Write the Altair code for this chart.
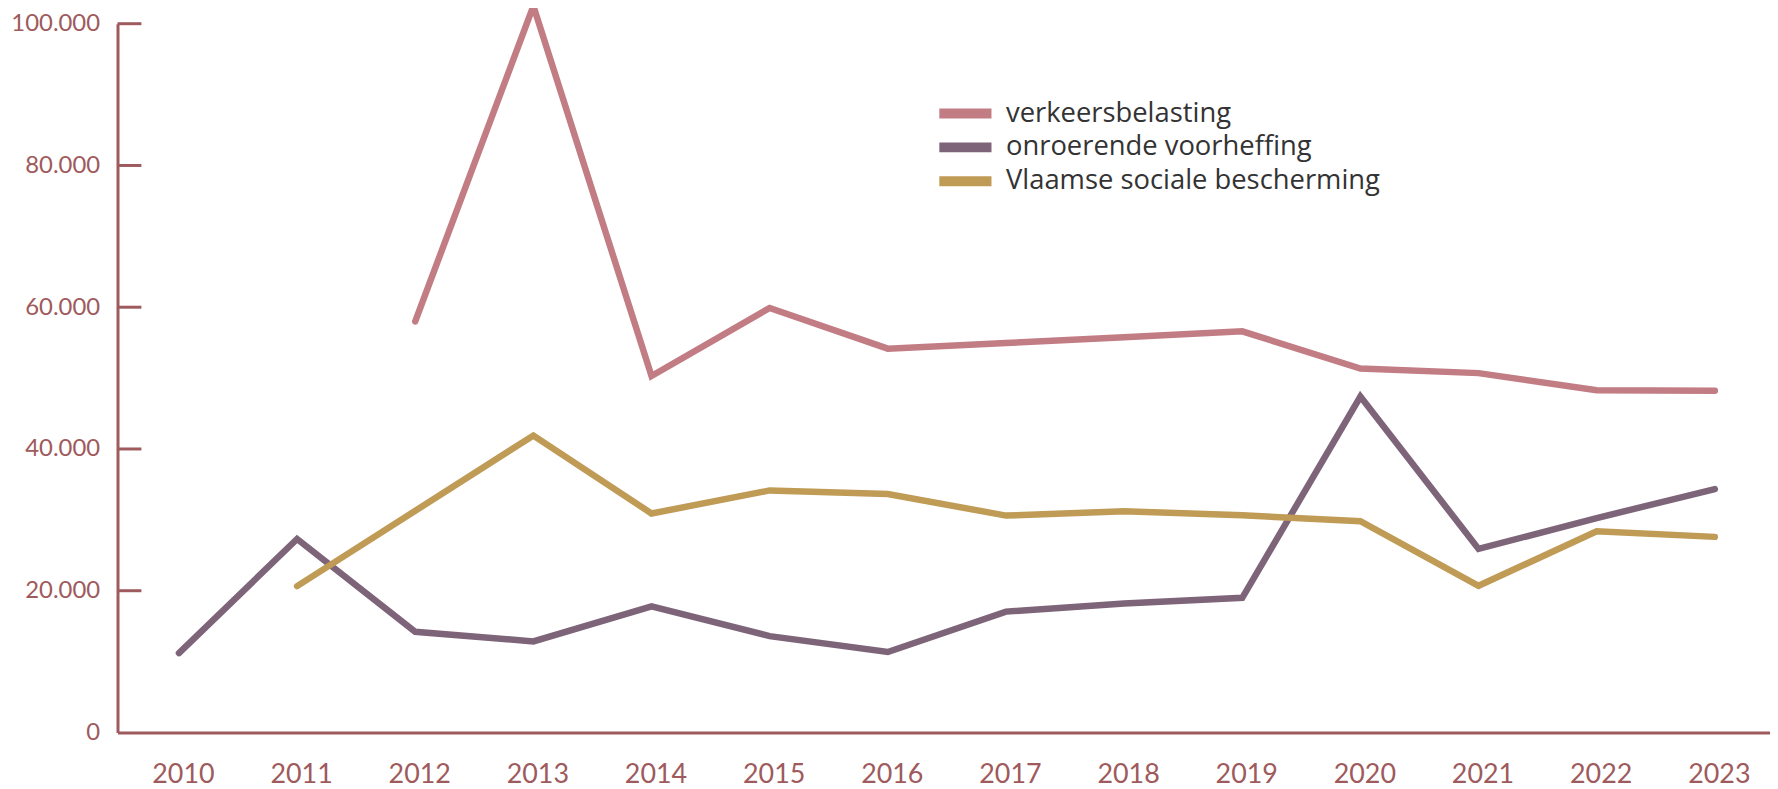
import altair as alt
import pandas as pd

years = list(range(2010, 2024))
verkeersbelasting = [None, None, 58000, 102500, 50300, 59900, 54150, 54950, 55750, 56600, 51350, 50700, 48300, 48200]
onroerende_voorheffing = [11200, 27300, 14200, 12850, 17800, 13600, 11350, 17050, 18200, 19000, 47400, 25900, 30250, 34350]
vlaamse_sociale_bescherming = [None, 20650, None, 41900, 30900, 34150, 33650, 30600, 31200, 30650, 29800, 20700, 28380, 27600]
series_names = ["verkeersbelasting", "onroerende voorheffing", "Vlaamse sociale bescherming"]
series_colors = ["#C27C83", "#7E6479", "#BF9B55"]
y_ticks = [0, 20000, 40000, 60000, 80000, 100000]

AX = "#9E5A5C"

rows = []
for name, vals in zip(series_names, [verkeersbelasting, onroerende_voorheffing, vlaamse_sociale_bescherming]):
    for yr, v in zip(years, vals):
        if v is not None:
            rows.append({"jaar": yr, "waarde": v, "reeks": name})
df = pd.DataFrame(rows)
ticks_df = pd.DataFrame({"waarde": y_ticks[1:]})

y_axis = alt.Axis(values=y_ticks, title=None, ticks=False, tickSize=0, grid=False,
                  domainColor=AX, domainWidth=3, labelColor=AX, labelFont="Lato",
                  labelFontSize=24, labelPadding=18,
                  labelExpr="replace(format(datum.value, ','), ',', '.')")
y_scale = alt.Scale(domain=[0, 100000], nice=False, zero=True)

x_enc = alt.X("jaar:Q",
              scale=alt.Scale(domain=[2009.48, 2023.467], nice=False, zero=False),
              axis=alt.Axis(values=years, format="d", title=None, ticks=False, tickSize=0,
                            grid=False, domainColor=AX, domainWidth=3, labelColor=AX,
                            labelFont="Lato", labelFontSize=27, labelPadding=29,
                            labelOffset=4, labelFlush=False))

lines = alt.Chart(df).mark_line(strokeWidth=6.5, strokeCap="round", strokeJoin="miter", clip=False).encode(
    x=x_enc,
    y=alt.Y("waarde:Q", scale=y_scale, axis=y_axis),
    color=alt.Color("reeks:N",
                    scale=alt.Scale(domain=series_names, range=series_colors),
                    sort=series_names,
                    legend=alt.Legend(title=None, orient="none", legendX=838, legendY=76.5,
                                      symbolType="M-5.24,0H5.24", symbolSize=100,
                                      symbolStrokeWidth=10, labelFont="Open Sans",
                                      labelFontSize=27.5, labelColor="#333333",
                                      labelOffset=27, rowPadding=-9.5, padding=0,
                                      labelLimit=0)),
    detail="reeks:N",
)

tick_rules = alt.Chart(ticks_df).mark_rule(color=AX, strokeWidth=3).encode(
    y=alt.Y("waarde:Q", scale=y_scale, axis=y_axis),
    x=alt.value(0),
    x2=alt.value(24),
)

chart = alt.layer(lines, tick_rules).properties(
    width=1660, height=712,
    autosize=alt.AutoSizeParams(type="none"),
    padding={"left": 110, "top": 14, "right": 0, "bottom": 55},
    background="white",
).configure_view(stroke=None)

chart.save("out.html", embed_options={"renderer": "svg", "actions": False})
